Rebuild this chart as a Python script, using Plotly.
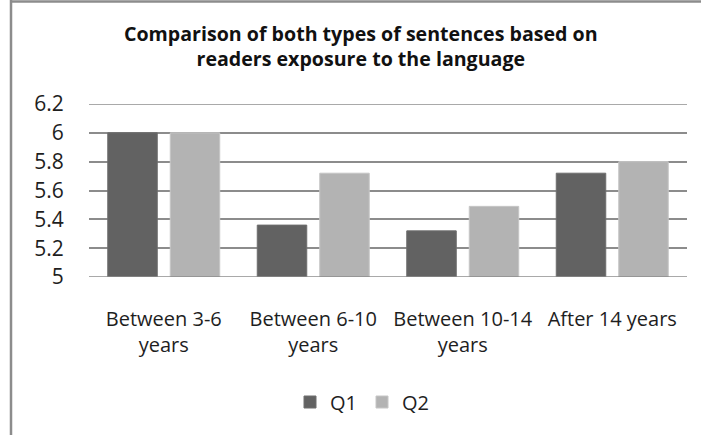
import plotly.graph_objects as go

categories = ["Between 3-6<br>years", "Between 6-10<br>years", "Between 10-14<br>years", "After 14 years"]
q1_values = [6.0, 5.36, 5.32, 5.72]
q2_values = [6.0, 5.72, 5.49, 5.80]
y_ticks = [5, 5.2, 5.4, 5.6, 5.8, 6, 6.2]
y_tick_labels = ["5", "5.2", "5.4", "5.6", "5.8", "6", "6.2"]
title_text = "Comparison of both types of sentences based on<br>readers exposure to the language"

FONT = "Open Sans"
GRID = "#8c8c8c"
TXT = "#1e1e1e"
CLEAR = "rgba(0,0,0,0)"

fig = go.Figure()
fig.add_trace(go.Bar(name="Q1", x=categories, y=q1_values,
                     marker=dict(color="#626262", line=dict(color="#6e6e6e", width=1))))
fig.add_trace(go.Bar(name="Q2", x=categories, y=q2_values,
                     marker=dict(color="#b3b3b3", line=dict(color="#c6c6c6", width=1))))

PH = 173.0  # plot height in px
def ypaper(px):
    return (277 - px) / PH
def xpaper(px):
    return (px - 89) / 598.0

annotations = [
    dict(text="<b>%s</b>" % title_text, xref="paper", yref="paper", x=xpaper(361), y=ypaper(46),
         xanchor="center", yanchor="middle", showarrow=False, align="center",
         font=dict(family=FONT, size=19.6, color="#111111")),
]

fig.update_layout(
    width=701, height=435,
    margin=dict(l=89, r=14, t=104, b=158),
    paper_bgcolor="white", plot_bgcolor="white",
    barmode="group", bargap=0.164, bargroupgap=0.208,
    font=dict(family=FONT, size=20, color=TXT),
    showlegend=True,
    legend=dict(orientation="h", x=xpaper(362), xanchor="center", y=ypaper(402), yanchor="middle",
                font=dict(family=FONT, size=20, color=TXT), traceorder="normal"),
    xaxis=dict(showgrid=False, showline=False, ticks="outside", ticklen=24, tickcolor=CLEAR,
               tickfont=dict(family=FONT, size=20, color=TXT)),
    yaxis=dict(range=[5, 6.2], tickvals=y_ticks, ticktext=y_tick_labels,
               showgrid=True, gridcolor=GRID, gridwidth=1.5,
               zeroline=False, showline=False, ticks="outside", ticklen=20, tickcolor=CLEAR,
               tickfont=dict(family=FONT, size=21, color=TXT)),
    annotations=annotations,
    shapes=[
        dict(type="line", xref="paper", yref="paper", x0=xpaper(11), x1=xpaper(11), y0=-1.0, y1=ypaper(0),
             line=dict(color=GRID, width=2.5)),
        dict(type="line", xref="paper", yref="paper", x0=xpaper(10), x1=1.1, y0=ypaper(1.5), y1=ypaper(1.5),
             line=dict(color=GRID, width=2.5)),
        dict(type="line", xref="paper", yref="y", x0=0, x1=1, y0=6.2, y1=6.2,
             line=dict(color=GRID, width=1.5), layer="below"),
        dict(type="line", xref="paper", yref="y", x0=0, x1=1, y0=5, y1=5,
             line=dict(color=GRID, width=1.5), layer="above"),
    ],
)

fig.write_html("out.html")
